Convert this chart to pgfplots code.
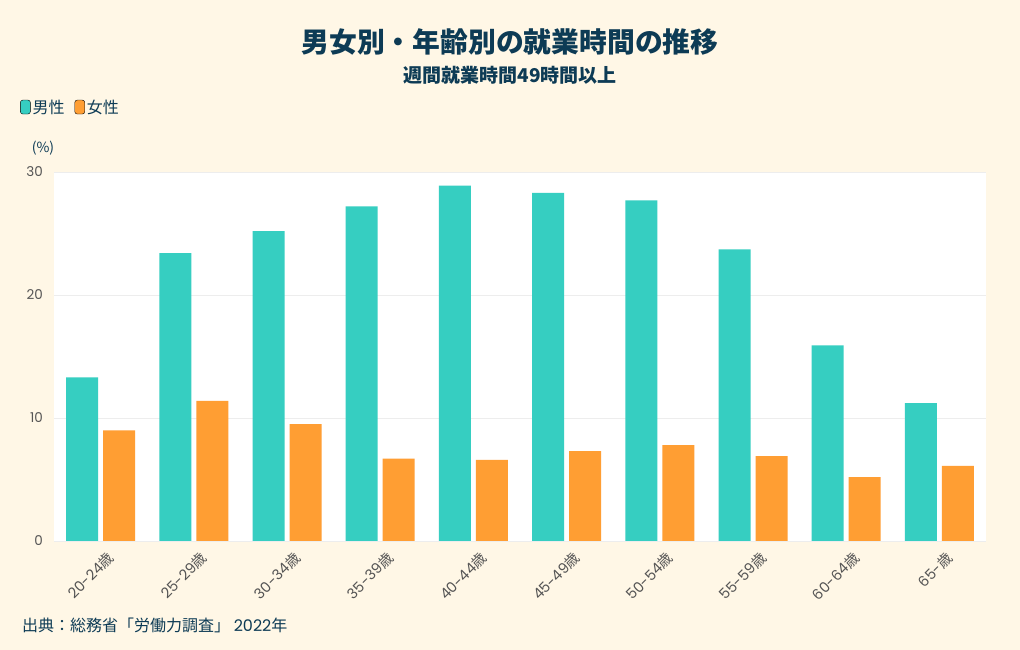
\documentclass[border=0pt]{standalone}
\usepackage{pgfplots}
\pgfplotsset{compat=1.18}
\usepackage{fontspec}
\setmainfont{Noto Sans CJK JP}
\newfontfamily\lat{Poppins}
\definecolor{bg}{HTML}{FFF7E6}
\definecolor{teal}{HTML}{36CEC1}
\definecolor{orng}{HTML}{FF9E33}
\definecolor{navy}{HTML}{0D3B55}
\definecolor{tick}{HTML}{555555}
\definecolor{gridc}{HTML}{EDEDED}
\newcommand{\sai}[1]{{\lat #1}歳}
\begin{document}
\begin{tikzpicture}[x=1bp,y=1bp]
\fill[bg] (0,0) rectangle (1020,650);
\useasboundingbox (0,0) rectangle (1020,650);
\node[font=\fontsize{27.8bp}{32bp}\selectfont\bfseries, text=navy] at (510,608) {男女別・年齢別の就業時間の推移};
\node[font=\fontsize{19bp}{22bp}\selectfont\bfseries, text=navy] at (510,575) {週間就業時間49時間以上};
\node[font=\fontsize{14bp}{16bp}\selectfont, text=navy] at (43,502) {(\%)};
\node[font=\fontsize{16bp}{19bp}\selectfont, text=navy, anchor=west, inner sep=0] at (22,25) {出典：総務省「労働力調査」 {\lat 2022}年};
\begin{axis}[
  at={(54bp,109bp)}, anchor=south west,
  scale only axis, width=932bp, height=369bp,
  axis background/.style={fill=white},
  ybar=5bp, bar width=32bp,
  xmin=-0.5, xmax=9.5, ymin=0, ymax=30,
  xtick={0,...,9},
  xticklabels={\sai{20-24},\sai{25-29},\sai{30-34},\sai{35-39},\sai{40-44},\sai{45-49},\sai{50-54},\sai{55-59},\sai{60-64},\sai{65-}},
  ytick={0,10,20,30},
  ymajorgrids, grid style={gridc, line width=0.8bp},
  axis line style={draw=none},
  major tick length=0pt,
  /pgf/number format/assume math mode=true,
  yticklabel style={font=\lat\fontsize{13.5bp}{15bp}\selectfont, text=tick, inner sep=0pt, xshift=-11bp},
  xticklabel style={font=\fontsize{14.5bp}{17bp}\selectfont, text=tick, rotate=45, anchor=east, inner sep=0pt, xshift=-2.5bp, yshift=-17.6bp},
  legend columns=2,
  legend style={at={(rel axis cs:-0.0365,1.176)}, anchor=west, draw=none, fill=none,
    font=\fontsize{16bp}{19bp}\selectfont, text=navy, inner sep=0pt,
    /tikz/every even column/.append style={column sep=8bp}},
  legend image code/.code={\draw[#1, rounded corners=2.5bp] (0bp,-7bp) rectangle (10bp,7bp);},
]
\addplot[fill=teal, draw=none] coordinates {(0,13.3) (1,23.4) (2,25.2) (3,27.2) (4,28.9) (5,28.3) (6,27.7) (7,23.7) (8,15.9) (9,11.2)};
\addplot[fill=orng, draw=none] coordinates {(0,9.0) (1,11.4) (2,9.5) (3,6.7) (4,6.6) (5,7.3) (6,7.8) (7,6.9) (8,5.2) (9,6.1)};
\legend{男性,女性}
\end{axis}
\end{tikzpicture}
\end{document}
